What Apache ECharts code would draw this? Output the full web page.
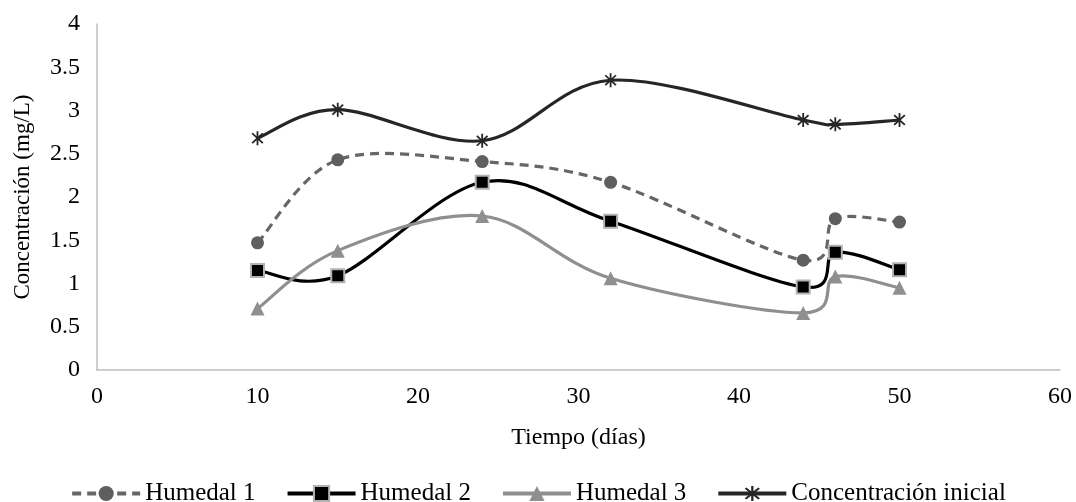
<!DOCTYPE html>
<html>
<head>
<meta charset="utf-8">
<script src="https://cdn.jsdelivr.net/npm/echarts@6/dist/echarts.min.js"></script>
<style>html,body{margin:0;padding:0;background:#fff}#c{width:1076px;height:502px}</style>
</head>
<body>
<div id="c"></div>
<script>
var days = [10, 15, 24, 32, 44, 46, 50];
var humedal1 = [1.47, 2.43, 2.41, 2.17, 1.27, 1.75, 1.71];
var humedal2 = [1.15, 1.09, 2.17, 1.72, 0.96, 1.36, 1.16];
var humedal3 = [0.71, 1.38, 1.78, 1.06, 0.66, 1.08, 0.95];
var inicial = [2.68, 3.01, 2.65, 3.35, 2.89, 2.84, 2.89];
var seriesNames = ['Humedal 1', 'Humedal 2', 'Humedal 3', 'Concentración inicial'];
var xTicks = [0, 10, 20, 30, 40, 50, 60];
var yTicks = [0, 0.5, 1, 1.5, 2, 2.5, 3, 3.5, 4];

function pairs(vals) { return days.map(function (d, i) { return [d, vals[i]]; }); }

var FONT = '"Liberation Serif", "Times New Roman", serif';
var starPath = 'path://M-1.2,-10L1.2,-10L1.2,10L-1.2,10Z' +
  'M-7.92,-6.22L-6.22,-7.92L7.92,6.22L6.22,7.92Z' +
  'M-6.22,7.92L-7.92,6.22L6.22,-7.92L7.92,-6.22Z';

var styles = [
  {symbol: 'circle', size: 13, line: {color: '#666666', width: 3.2, type: [9, 6]}, item: {color: '#5f5f5f', borderWidth: 0}},
  {symbol: 'rect', size: 13, line: {color: '#000000', width: 3.2, type: 'solid'}, item: {color: '#000000', borderColor: '#b3b3b3', borderWidth: 2}},
  {symbol: 'triangle', size: 14, line: {color: '#8f8f8f', width: 3.2, type: 'solid'}, item: {color: '#8f8f8f', borderWidth: 0}},
  {symbol: starPath, size: [12, 14], line: {color: '#262626', width: 3.2, type: 'solid'}, item: {color: '#262626', borderWidth: 0}}
];
var allData = [humedal1, humedal2, humedal3, inicial];

// Excel-like smoothed curve (Catmull-Rom Bezier) through points mapped by the axes
function smoothRender(vals, st) {
  return function (params, api) {
    if (params.dataIndex !== 0) return null;
    var pts = days.map(function (d, i) { return api.coord([d, vals[i]]); });
    var n = pts.length, f = 1 / 6;
    var d = 'M' + pts[0][0] + ' ' + pts[0][1];
    for (var i = 0; i < n - 1; i++) {
      var p0 = pts[i > 0 ? i - 1 : i], p1 = pts[i], p2 = pts[i + 1], p3 = pts[i + 2 < n ? i + 2 : i + 1];
      var c1x = p1[0] + (p2[0] - p0[0]) * f, c1y = p1[1] + (p2[1] - p0[1]) * f;
      var c2x = p2[0] - (p3[0] - p1[0]) * f, c2y = p2[1] - (p3[1] - p1[1]) * f;
      d += ' C' + c1x + ' ' + c1y + ' ' + c2x + ' ' + c2y + ' ' + p2[0] + ' ' + p2[1];
    }
    return {
      type: 'path',
      shape: {pathData: d},
      style: {fill: null, stroke: st.line.color, lineWidth: st.line.width,
        lineDash: st.line.type === 'solid' ? null : st.line.type, lineCap: 'butt', lineJoin: 'round'}
    };
  };
}

var series = [];
seriesNames.forEach(function (n, i) {
  series.push({
    type: 'custom', name: '_curve' + i, data: pairs(allData[i]),
    renderItem: smoothRender(allData[i], styles[i]), z: 2 + i * 2, silent: true
  });
  series.push({
    name: n, type: 'line', data: pairs(allData[i]),
    symbol: styles[i].symbol, symbolSize: styles[i].size,
    lineStyle: {color: styles[i].line.color, width: 3.2, type: styles[i].line.type, opacity: 0},
    itemStyle: styles[i].item, z: 3 + i * 2
  });
});

var chart = echarts.init(document.getElementById('c'), null, {renderer: 'canvas'});
chart.setOption({
  animation: false,
  backgroundColor: '#fff',
  grid: {left: 97, right: 16, top: 24, bottom: 132, containLabel: false},
  xAxis: {
    type: 'value', min: xTicks[0], max: xTicks[xTicks.length - 1], interval: 10,
    name: 'Tiempo (días)', nameLocation: 'middle', nameGap: 56,
    nameTextStyle: {fontFamily: FONT, fontSize: 24, color: '#000'},
    axisLine: {lineStyle: {color: '#bfbfbf', width: 1.5}},
    axisTick: {show: false},
    splitLine: {show: false},
    axisLabel: {fontFamily: FONT, fontSize: 24, color: '#000', margin: 15}
  },
  yAxis: {
    type: 'value', min: yTicks[0], max: yTicks[yTicks.length - 1], interval: 0.5,
    name: 'Concentración (mg/L)', nameLocation: 'middle', nameGap: 63, nameRotate: 90,
    nameTextStyle: {fontFamily: FONT, fontSize: 23, color: '#000'},
    axisLine: {show: true, lineStyle: {color: '#bfbfbf', width: 1.5}},
    axisTick: {show: false},
    splitLine: {show: false},
    axisLabel: {fontFamily: FONT, fontSize: 24, color: '#000', margin: 17}
  },
  legend: {
    top: 476, left: 'center', itemGap: 30, itemWidth: 68, itemHeight: 19,
    textStyle: {fontFamily: FONT, fontSize: 25, color: '#000'},
    data: seriesNames.map(function (n, i) {
      return {name: n, lineStyle: {width: 4, color: styles[i].line.color, type: styles[i].line.type, opacity: 1}};
    })
  },
  series: series
});
</script>
</body>
</html>
